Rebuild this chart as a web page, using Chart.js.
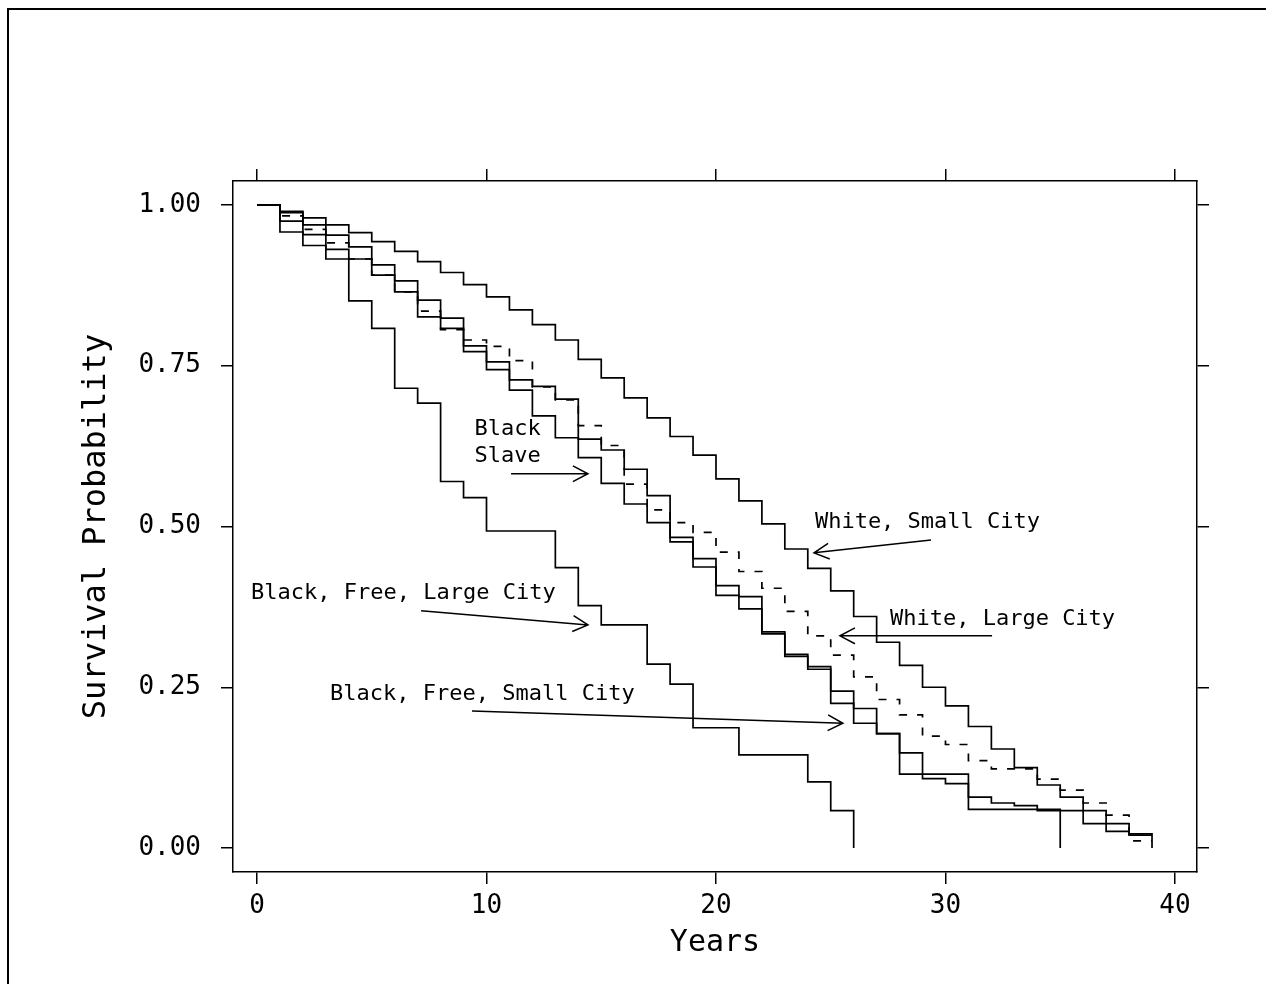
<!DOCTYPE html>
<html>
<head>
<meta charset="utf-8">
<title>Survival Probability</title>
<script src="https://cdn.jsdelivr.net/npm/chart.js@4.4.0/dist/chart.umd.min.js"></script>
<style>
  html, body { margin: 0; padding: 0; background: #fff; overflow: hidden; }
  #wrap { position: relative; width: 1266px; height: 984px; }
  #frame {
    position: absolute; left: 7px; top: 8px; right: -10px; bottom: -10px;
    border-top: 2px solid #000; border-left: 2px solid #000; pointer-events: none;
  }
</style>
</head>
<body>
<div id="wrap">
  <canvas id="survChart" width="1266" height="984"></canvas>
  <div id="frame"></div>
</div>
<script>
// Survival estimates by year (value holds from that year until the next one)
const years = [0, 1, 2, 3, 4, 5, 6, 7, 8, 9, 10, 11, 12, 13, 14, 15, 16, 17, 18, 19,
               20, 21, 22, 23, 24, 25, 26, 27, 28, 29, 30, 31, 32, 33, 34, 35, 36, 37, 38, 39];

const whiteSmallCity = [1.000, 0.990, 0.980, 0.969, 0.957, 0.943, 0.928, 0.912, 0.895, 0.876,
                        0.857, 0.837, 0.814, 0.790, 0.760, 0.731, 0.700, 0.669, 0.640, 0.611,
                        0.574, 0.540, 0.504, 0.465, 0.435, 0.400, 0.360, 0.320, 0.284, 0.250,
                        0.221, 0.189, 0.154, 0.125, 0.098, 0.079, 0.058, 0.026, 0.022, 0.000];

const whiteLargeCity = [1.000, 0.983, 0.962, 0.941, 0.916, 0.891, 0.865, 0.835, 0.806, 0.790,
                        0.780, 0.758, 0.717, 0.697, 0.657, 0.626, 0.566, 0.526, 0.506, 0.491,
                        0.460, 0.430, 0.404, 0.368, 0.330, 0.300, 0.266, 0.231, 0.207, 0.174,
                        0.161, 0.136, 0.123, 0.123, 0.107, 0.090, 0.070, 0.051, 0.011, 0.011];

const blackSlave = [1.000, 0.988, 0.969, 0.953, 0.935, 0.907, 0.882, 0.852, 0.824, 0.781,
                    0.756, 0.728, 0.718, 0.698, 0.636, 0.619, 0.589, 0.548, 0.483, 0.450,
                    0.408, 0.391, 0.336, 0.301, 0.282, 0.244, 0.217, 0.178, 0.148, 0.108,
                    0.100, 0.079, 0.070, 0.066, 0.058, 0.058, 0.038, 0.038, 0.020, 0.020];

const blackFreeSmallCity = [1.000, 0.975, 0.954, 0.931, 0.916, 0.891, 0.865, 0.826, 0.808, 0.772,
                            0.744, 0.712, 0.672, 0.638, 0.607, 0.567, 0.535, 0.506, 0.476, 0.437,
                            0.393, 0.372, 0.333, 0.298, 0.278, 0.225, 0.194, 0.178, 0.115, 0.115,
                            0.115, 0.060, 0.060, 0.060, 0.060, 0.000];

const blackFreeLargeCity = [1.000, 0.958, 0.937, 0.916, 0.851, 0.808, 0.715, 0.692, 0.570, 0.545,
                            0.493, 0.493, 0.493, 0.436, 0.377, 0.347, 0.347, 0.286, 0.255, 0.187,
                            0.187, 0.145, 0.145, 0.145, 0.103, 0.058, 0.000];

const xTicks = [0, 10, 20, 30, 40];
const yTicks = [0, 0.25, 0.5, 0.75, 1];

// Curve labels, placed in data units (anchor / baseline of the text)
const notes = [
    { text: 'Black', x: 10.92, y: 0.642, align: 'center' },
    { text: 'Slave', x: 10.92, y: 0.601, align: 'center' },
    { text: 'White, Small City', x: 24.31, y: 0.498, align: 'left' },
    { text: 'White, Large City', x: 27.58, y: 0.347, align: 'left' },
    { text: 'Black, Free, Large City', x: -0.26, y: 0.387, align: 'left' },
    { text: 'Black, Free, Small City', x: 3.18, y: 0.230, align: 'left' }
];

const arrows = [
    { from: [11.07, 0.582], to: [14.42, 0.582] },
    { from: [29.37, 0.479], to: [24.27, 0.459] },
    { from: [32.03, 0.330], to: [25.40, 0.330] },
    { from: [7.15, 0.369], to: [14.42, 0.347] },
    { from: [9.37, 0.213], to: [25.53, 0.194] }
];

const FONT = 'DejaVu Sans Mono';

function toPoints(values) {
    return values.map((v, i) => ({ x: years[i], y: v }));
}

function curve(label, values, dashed) {
    return {
        label: label,
        data: toPoints(values),
        stepped: 'before',
        borderColor: '#000',
        borderWidth: 1.7,
        borderDash: dashed ? [8, 10] : [],
        pointRadius: 0,
        fill: false,
        xAxisID: 'x',
        yAxisID: 'y'
    };
}

function fixedTicks(values) {
    return scale => { scale.ticks = values.map(v => ({ value: v })); };
}

const gridOpts = { drawOnChartArea: false, drawTicks: true, tickLength: 12, color: '#000', lineWidth: 1.5 };
const borderOpts = { display: true, color: '#000', width: 1.5 };

// Draws the text labels and their arrows
const notesPlugin = {
    id: 'curveNotes',
    afterDatasetsDraw(chart) {
        const { ctx } = chart;
        const xs = chart.scales.x;
        const ys = chart.scales.y;
        ctx.save();
        ctx.fillStyle = '#000';
        ctx.strokeStyle = '#000';
        ctx.lineWidth = 1.5;
        ctx.font = '22px "' + FONT + '"';
        ctx.textBaseline = 'alphabetic';
        notes.forEach(n => {
            ctx.textAlign = n.align;
            ctx.fillText(n.text, xs.getPixelForValue(n.x), ys.getPixelForValue(n.y));
        });

        arrows.forEach(a => {
            const x0 = xs.getPixelForValue(a.from[0]);
            const y0 = ys.getPixelForValue(a.from[1]);
            const x1 = xs.getPixelForValue(a.to[0]);
            const y1 = ys.getPixelForValue(a.to[1]);
            const ang = Math.atan2(y1 - y0, x1 - x0);
            const len = 17;
            const spread = Math.PI / 6.5;
            ctx.beginPath();
            ctx.moveTo(x0, y0);
            ctx.lineTo(x1, y1);
            ctx.moveTo(x1 - len * Math.cos(ang - spread), y1 - len * Math.sin(ang - spread));
            ctx.lineTo(x1, y1);
            ctx.lineTo(x1 - len * Math.cos(ang + spread), y1 - len * Math.sin(ang + spread));
            ctx.stroke();
        });
        ctx.restore();
    }
};

const ctx = document.getElementById('survChart').getContext('2d');
new Chart(ctx, {
    type: 'line',
    data: {
        datasets: [
            curve('White, Small City', whiteSmallCity, false),
            curve('White, Large City', whiteLargeCity, true),
            curve('Black Slave', blackSlave, false),
            curve('Black, Free, Small City', blackFreeSmallCity, false),
            curve('Black, Free, Large City', blackFreeLargeCity, false)
        ]
    },
    options: {
        responsive: false,
        animation: false,
        layout: { padding: 0 },
        plugins: {
            legend: { display: false },
            tooltip: { enabled: false }
        },
        scales: {
            x: {
                type: 'linear',
                position: 'bottom',
                min: -1.046,
                max: 40.96,
                afterBuildTicks: fixedTicks(xTicks),
                afterFit: s => { s.height = 112; },
                grid: gridOpts,
                border: borderOpts,
                ticks: { font: { family: FONT, size: 26 }, color: '#000', padding: 7, maxRotation: 0, autoSkip: false },
                title: {
                    display: true,
                    text: 'Years',
                    color: '#000',
                    font: { family: FONT, size: 30, lineHeight: 1 },
                    padding: { top: 0, bottom: 26 }
                }
            },
            xTop: {
                type: 'linear',
                position: 'top',
                min: -1.046,
                max: 40.96,
                afterBuildTicks: fixedTicks(xTicks),
                afterFit: s => { s.height = 181; },
                grid: gridOpts,
                border: borderOpts,
                ticks: { display: false }
            },
            y: {
                type: 'linear',
                position: 'left',
                min: -0.0373,
                max: 1.0373,
                afterBuildTicks: fixedTicks(yTicks),
                afterFit: s => { s.width = 233; },
                grid: gridOpts,
                border: borderOpts,
                ticks: {
                    font: { family: FONT, size: 26 },
                    color: '#000',
                    padding: 20,
                    autoSkip: false,
                    callback: v => Number(v).toFixed(2)
                },
                title: {
                    display: true,
                    text: 'Survival Probability',
                    color: '#000',
                    font: { family: FONT, size: 32, lineHeight: 1 },
                    padding: { top: 81, bottom: 0 }
                }
            },
            yRight: {
                type: 'linear',
                position: 'right',
                min: -0.0373,
                max: 1.0373,
                afterBuildTicks: fixedTicks(yTicks),
                afterFit: s => { s.width = 69; },
                grid: gridOpts,
                border: borderOpts,
                ticks: { display: false }
            }
        }
    },
    plugins: [notesPlugin]
});
</script>
</body>
</html>
